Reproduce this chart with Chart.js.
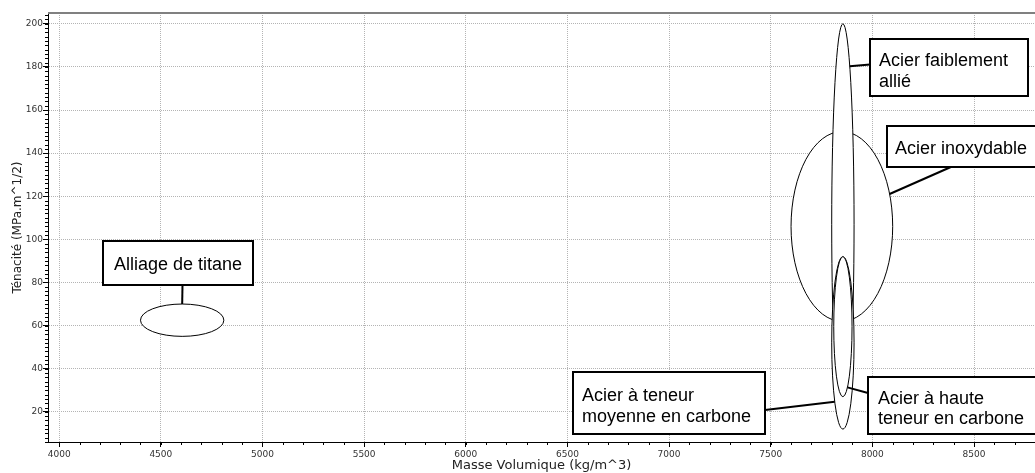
<!DOCTYPE html>
<html>
<head>
<meta charset="utf-8">
<script src="https://cdn.jsdelivr.net/npm/chart.js@4.4.1/dist/chart.umd.min.js"></script>
<style>
html,body{margin:0;padding:0;background:#fff;overflow:hidden}
#wrap{width:1035px;height:473px;position:relative}
</style>
</head>
<body>
<div id="wrap"><canvas id="c" width="1035" height="473"></canvas></div>
<script>
// ---- data ----
const materials = ['Alliage de titane', 'Acier inoxydable', 'Acier faiblement allié', 'Acier à teneur moyenne en carbone', 'Acier à haute teneur en carbone'];
const densityMin = [4400, 7600, 7800, 7800, 7810];
const densityMax = [4810, 8100, 7910, 7910, 7900];
const toughnessMin = [55, 62, 14, 12, 27];
const toughnessMax = [70, 150, 200, 92, 92];
const labelLines = [['Alliage de titane'], ['Acier inoxydable'], ['Acier faiblement', 'allié'], ['Acier à teneur', 'moyenne en carbone'], ['Acier à haute', 'teneur en carbone']];
const xTickValues = [4000, 4500, 5000, 5500, 6000, 6500, 7000, 7500, 8000, 8500];
const xTickLabels = ['4000', '4500', '5000', '5500', '6000', '6500', '7000', '7500', '8000', '8500'];
const yTickValues = [20, 40, 60, 80, 100, 120, 140, 160, 180, 200];
const yTickLabels = ['20', '40', '60', '80', '100', '120', '140', '160', '180', '200'];
const xTitle = 'Masse Volumique (kg/m^3)';
const yTitle = 'Ténacité (MPa.m^1/2)';

// ---- layout of the callout boxes (pixels) ----
const callouts = [
  {box: [103, 241, 150, 44], textX: 178, align: 'center', baselines: [269.5], from: [182.5, 285], angle: -90},
  {box: [887, 126, 170, 41], textX: 895, align: 'left', baselines: [153.5], from: [952, 166.5], angle: -20},
  {box: [870, 39, 158, 57], textX: 879, align: 'left', baselines: [66, 86.5], from: [870, 64.5], angle: -52},
  {box: [573, 372, 192, 62], textX: 582, align: 'left', baselines: [401, 421.5], from: [765, 410], angle: 137},
  {box: [868, 377, 180, 57], textX: 878, align: 'left', baselines: [403.5, 424], from: [868, 393], angle: 60}
];

const ellipsePlugin = {
  id: 'ellipses',
  afterDatasetsDraw(chart) {
    const {ctx, scales: {x, y}, chartArea} = chart;
    ctx.save();
    // top frame line
    ctx.strokeStyle = '#808080';
    ctx.lineWidth = 2;
    ctx.beginPath();
    ctx.moveTo(chartArea.left, chartArea.top);
    ctx.lineTo(chartArea.right, chartArea.top);
    ctx.stroke();
    // minor ticks
    ctx.strokeStyle = '#000';
    ctx.lineWidth = 1;
    ctx.beginPath();
    for (let v = Math.ceil(x.min / 100) * 100; v <= x.max; v += 100) {
      const px = Math.round(x.getPixelForValue(v)) + 0.5;
      ctx.moveTo(px, chartArea.bottom);
      ctx.lineTo(px, chartArea.bottom + 3);
    }
    for (let v = Math.ceil(y.min / 2) * 2; v <= y.max; v += 2) {
      const py = Math.round(y.getPixelForValue(v)) + 0.5;
      ctx.moveTo(chartArea.left, py);
      ctx.lineTo(chartArea.left - 3, py);
    }
    ctx.stroke();

    // ellipses
    const geo = materials.map((m, i) => {
      const x1 = x.getPixelForValue(densityMin[i]), x2 = x.getPixelForValue(densityMax[i]);
      const y1 = y.getPixelForValue(toughnessMax[i]), y2 = y.getPixelForValue(toughnessMin[i]);
      return {cx: (x1 + x2) / 2, cy: (y1 + y2) / 2, rx: (x2 - x1) / 2, ry: (y2 - y1) / 2};
    });
    geo.forEach(g => {
      ctx.beginPath();
      ctx.ellipse(g.cx, g.cy, g.rx, g.ry, 0, 0, Math.PI * 2);
      ctx.fillStyle = '#fff';
      ctx.fill();
      ctx.strokeStyle = '#000';
      ctx.lineWidth = 1;
      ctx.stroke();
    });

    // callouts
    ctx.font = '18px "Liberation Sans", Arial, sans-serif';
    callouts.forEach((c, i) => {
      const g = geo[i];
      const a = c.angle * Math.PI / 180;
      const ex = g.cx + g.rx * Math.cos(a), ey = g.cy + g.ry * Math.sin(a);
      ctx.strokeStyle = '#000';
      ctx.lineWidth = 2;
      ctx.beginPath();
      ctx.moveTo(c.from[0], c.from[1]);
      ctx.lineTo(ex, ey);
      ctx.stroke();
      const [bx, by, bw, bh] = c.box;
      ctx.fillStyle = '#fff';
      ctx.fillRect(bx, by, bw, bh);
      ctx.strokeRect(bx, by, bw, bh);
      ctx.fillStyle = '#000';
      ctx.textAlign = c.align;
      ctx.textBaseline = 'alphabetic';
      labelLines[i].forEach((t, k) => ctx.fillText(t, c.textX, c.baselines[k]));
    });
    ctx.restore();
  }
};

new Chart(document.getElementById('c'), {
  type: 'scatter',
  data: {
    datasets: [{
      label: 'Matériaux',
      data: materials.map((m, i) => ({x: (densityMin[i] + densityMax[i]) / 2, y: (toughnessMin[i] + toughnessMax[i]) / 2})),
      pointRadius: 0,
      showLine: false
    }]
  },
  options: {
    responsive: false,
    animation: false,
    devicePixelRatio: 1,
    layout: {padding: {top: 13, right: 0, left: 0, bottom: 0}},
    plugins: {legend: {display: false}, tooltip: {enabled: false}},
    scales: {
      x: {
        type: 'linear', min: 3945, max: 8800,
        afterFit(s) { s.height = 31; },
        afterBuildTicks(s) { s.ticks = xTickValues.map(v => ({value: v})); },
        ticks: {callback: (v, i) => xTickLabels[i], font: {family: 'DejaVu Sans', size: 9}, color: '#333', padding: 2, maxRotation: 0, autoSkip: false},
        grid: {color: '#b4b4b4', lineWidth: 1, tickLength: 5, tickColor: '#000', tickBorderDash: []},
        border: {display: true, color: '#000', width: 1, dash: [1, 1]},
        title: {display: true, text: xTitle, font: {family: 'DejaVu Sans', size: 13}, color: '#222', padding: {top: 0, bottom: 0}}
      },
      y: {
        type: 'linear', min: 6, max: 205,
        afterFit(s) { s.width = 48; },
        afterBuildTicks(s) { s.ticks = yTickValues.map(v => ({value: v})); },
        ticks: {callback: (v, i) => yTickLabels[i], font: {family: 'DejaVu Sans', size: 9}, color: '#333', padding: 0, autoSkip: false},
        grid: {color: '#b4b4b4', lineWidth: 1, tickLength: 5, tickColor: '#000', tickBorderDash: []},
        border: {display: true, color: '#000', width: 1, dash: [1, 1]},
        title: {display: true, text: yTitle, font: {family: 'DejaVu Sans', size: 12}, color: '#222', padding: {top: 11, bottom: 0}}
      }
    }
  },
  plugins: [ellipsePlugin]
});
</script>
</body>
</html>
